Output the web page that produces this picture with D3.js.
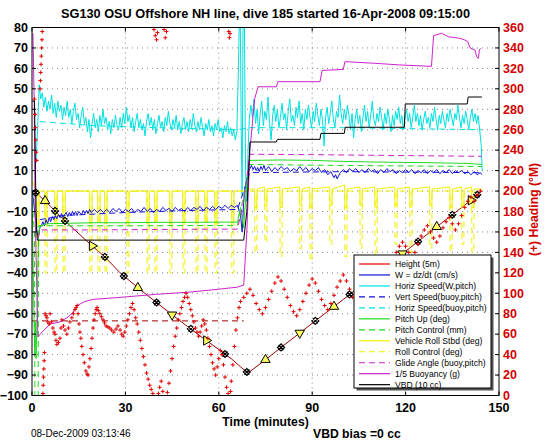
<!DOCTYPE html>
<html><head><meta charset="utf-8">
<script src="https://cdn.jsdelivr.net/npm/d3@7"></script>
<style>
body{margin:0;background:#fff}
text{font-family:"Liberation Sans",Arial,Helvetica,sans-serif}
</style></head>
<body><svg id="c" width="546" height="442"></svg>
<script>
// ---------------- data ----------------
const titleText = "SG130 OSU Offshore NH line, dive 185 started 16-Apr-2008 09:15:00";
const xTicks = [0,30,60,90,120,150];
const yTicks = [-100,-90,-80,-70,-60,-50,-40,-30,-20,-10,0,10,20,30,40,50,60,70,80];
const rTicks = [0,20,40,60,80,100,120,140,160,180,200,220,240,260,280,300,320,340,360];

// Height (5m) - depth trace
const height = [[0,0],[1,-0.5],[2,-1.8],[3,-3.2],[4.2,-4.8],[7.4,-9.7],[10.6,-14.6],[15,-20.8],[19.3,-26.8],[23.4,-32.2],[28.3,-40],[35,-48.5],[40,-54.5],[45,-60.5],[50,-66.3],[55,-72],[60,-77.5],[64,-82],[67,-86],[69,-88.5],[70,-88.3],[75,-82.5],[80,-76.5],[90,-64.7],[100,-53],[110,-41.2],[120,-29.4],[130,-17.5],[140,-5.7],[144.5,0]];
const heightTri = [[4.2,-4.8,0],[19.3,-26.8,90],[34,-47.3,0],[45,-60.5,180],[56,-73.1,90],[75,-82.5,0],[86,-69.4,180],[97,-56.5,0],[108,-43.6,90],[119,-30.6,180],[130,-17.5,0],[141,-4.5,90]];
const heightX = [[1.2,-0.8],[7.4,-9.7],[10.6,-14.6],[23.4,-32.2],[29.5,-41.6],[40,-54.5],[51,-67.4],[62,-79.7],[69,-88.5],[80,-76.5],[91,-63.5],[102,-50.6],[113,-37.7],[124,-24.7],[135,-11.6],[143,-1.8]];
const desiredHeading = [[0,-63.5],[68,-63.5]];

// W = dz/dt (cm/s)
const wSpeed = [[0,0],[0.5,-5],[1,-12],[1.5,-20],[2,-22],[2.5,-18],[3,-17],[3.5,-15],[4,-17],[4.5,-14],[5,-16],[5.5,-13],[6,-15],[6.5,-12.5],[7,-14],[7.5,-12],[8,-13.5],[8.5,-11.5],[9,-13],[9.5,-11],[10,-13],[10.5,-11.5],[11,-10.5],[11.5,-12.5],[12,-10.5],[12.5,-12],[13,-10],[13.5,-11.5],[14,-10],[14.5,-12],[15,-10],[16,-11.5],[16.5,-9.5],[17,-11],[17.5,-9.5],[18,-11],[18.5,-9],[19,-10.5],[20,-9],[21,-10.5],[22,-9],[23,-10.5],[24,-9],[25,-10.5],[26,-8.5],[27,-10],[28,-8.5],[29,-10.5],[30,-9],[31,-10],[32,-8.5],[33,-10.5],[34,-9],[35,-10],[36,-8],[37,-10],[38,-8.5],[39,-10.5],[40,-9],[41,-10],[42,-8],[43,-9.5],[44,-8.5],[45,-10],[46,-8],[47,-9.5],[48,-8.5],[49,-10],[50,-8],[51,-9.5],[52,-8],[53,-9],[54,-7.5],[55,-9.5],[56,-8],[57,-9],[58,-7.5],[59,-9],[60,-7.5],[61,-8.5],[62,-7],[63,-8.5],[64,-7],[65,-8],[66,-7],[67,-12],[67.5,-20],[68,-5],[68.5,2],[69,6],[69.5,9],[70,11],[70.5,12.5],[71,10.5],[71.5,12],[72,10],[72.5,11.5],[73,9.5],[73.5,12],[74,10.5],[74.5,12.5],[75,10],[76,12],[77,9.5],[78,11.5],[79,10],[80,12],[81,10.5],[82,11.5],[83,9.5],[84,11],[85,10],[86,12],[87,10],[88,11.5],[89,9.5],[90,11],[91,10],[92,11.5],[93,9],[94,10.5],[95,8],[96,9.5],[97,6.5],[97.5,8],[98,6],[99,9],[100,10.5],[101,9],[102,11],[103,9.5],[104,11],[105,9],[106,10.5],[107,9],[108,11],[109,9.5],[110,10.5],[111,8.5],[112,10.5],[113,9],[114,11],[115,9.5],[116,10.5],[117,8.5],[118,10],[119,9],[120,10.5],[121,9],[122,10.5],[123,8.5],[124,10],[125,9],[126,10.5],[127,8.5],[128,10],[129,9],[130,10.5],[131,8.5],[132,10],[133,9],[134,10.5],[135,8.5],[136,10],[137,9],[138,10],[139,8.5],[140,9.5],[141,8],[142,9.5],[143,8],[144,9],[144.5,8]];
const wBuoy = [[2.5,-14],[10,-12],[30,-10.5],[50,-9.5],[66,-9],[70,9],[100,9.5],[144.5,9]];

// Horiz Speed (W,pitch)
const hSpeed = [[1.3,15],[1.8,30],[2.3,52],[2.8,45],[3.3,48],[3.8,41],[4.3,46],[4.8,39],[5.3,44],[5.8,40],[6.3,47],[6.8,38],[7.3,43],[7.8,36],[8.3,44],[8.8,39],[9.3,42],[9.8,35],[10.3,41],[10.8,37],[11.3,44],[11.8,36],[12.3,40],[12.8,33],[13.3,39],[13.8,43],[14.3,35],[14.8,38],[15.3,31],[15.8,37],[16.3,41],[16.8,33],[17.3,36],[17.8,29],[18.3,35],[18.8,26],[19.3,33],[19.8,38],[20.3,31],[20.8,35],[21.3,29],[21.8,37],[22.3,32],[22.8,40],[23.3,33],[23.8,36],[24.3,30],[24.8,34],[25.3,28],[25.8,35],[26.3,31],[26.8,37],[27.3,32],[27.8,30],[28.3,36],[28.8,31],[29.3,38],[29.8,33],[30.3,41],[30.8,34],[31.3,37],[31.8,31],[32.3,36],[32.8,29],[33.3,34],[33.8,38],[34.3,31],[34.8,35],[35.3,30],[35.8,33],[36.3,27],[36.8,34],[37.3,38],[37.8,32],[38.3,36],[38.8,30],[39.3,35],[39.8,28],[40.3,33],[40.8,37],[41.3,31],[41.8,34],[42.3,29],[42.8,36],[43.3,32],[43.8,39],[44.3,33],[44.8,30],[45.3,35],[45.8,31],[46.3,37],[46.8,30],[47.3,34],[47.8,28],[48.3,33],[48.8,36],[49.3,30],[49.8,34],[50.3,29],[50.8,35],[51.3,31],[51.8,38],[52.3,32],[52.8,29],[53.3,34],[53.8,30],[54.3,36],[54.8,31],[55.3,27],[55.8,33],[56.3,30],[56.8,35],[57.3,29],[57.8,32],[58.3,27],[58.8,33],[59.3,30],[59.8,35],[60.3,29],[60.8,31],[61.3,26],[61.8,32],[62.3,29],[62.8,34],[63.3,28],[63.8,31],[64.3,27],[64.8,30],[65.3,25],[65.8,29],[66.3,60],[66.6,85],[66.9,85],[67.2,30],[67.5,-2],[67.8,85],[68.2,85],[68.6,10],[69,-5],[69.4,20],[69.8,35],[70.3,42],[70.8,36],[71.3,45],[71.8,33],[72.3,40],[72.8,28],[73.3,38],[73.8,44],[74.3,32],[74.8,39],[75.3,35],[75.8,46],[76.3,33],[76.8,25],[77.3,37],[77.8,42],[78.3,34],[78.8,40],[79.3,31],[79.8,36],[80.3,43],[80.8,35],[81.3,38],[81.8,30],[82.3,39],[82.8,45],[83.3,34],[83.8,37],[84.3,32],[84.8,41],[85.3,36],[85.8,44],[86.3,33],[86.8,38],[87.3,30],[87.8,40],[88.3,35],[88.8,42],[89.3,36],[89.8,31],[90.3,39],[90.8,34],[91.3,43],[91.8,37],[92.3,32],[92.8,40],[93.3,35],[93.8,22],[94.3,36],[94.8,41],[95.3,33],[95.8,38],[96.3,44],[96.8,35],[97.3,31],[97.8,39],[98.3,36],[98.8,47],[99.3,38],[99.8,33],[100.3,40],[100.8,35],[101.3,42],[101.8,37],[102.3,30],[102.8,38],[103.3,26],[103.8,35],[104.3,40],[104.8,33],[105.3,37],[105.8,29],[106.3,36],[106.8,42],[107.3,34],[107.8,39],[108.3,31],[108.8,37],[109.3,44],[109.8,35],[110.3,32],[110.8,38],[111.3,34],[111.8,41],[112.3,36],[112.8,30],[113.3,38],[113.8,33],[114.3,40],[114.8,35],[115.3,29],[115.8,37],[116.3,32],[116.8,39],[117.3,35],[117.8,41],[118.3,33],[118.8,37],[119.3,30],[119.8,36],[120.3,40],[120.8,34],[121.3,38],[121.8,31],[122.3,36],[122.8,42],[123.3,34],[123.8,38],[124.3,32],[124.8,37],[125.3,30],[125.8,35],[126.3,39],[126.8,33],[127.3,36],[127.8,31],[128.3,38],[128.8,34],[129.3,41],[129.8,35],[130.3,30],[130.8,37],[131.3,33],[131.8,39],[132.3,35],[132.8,31],[133.3,38],[133.8,34],[134.3,40],[134.8,36],[135.3,32],[135.8,38],[136.3,35],[136.8,42],[137.3,36],[137.8,31],[138.3,37],[138.8,33],[139.3,39],[139.8,35],[140.3,30],[140.8,36],[141.3,40],[141.8,34],[142.3,38],[142.8,33],[143.3,37],[143.8,30],[144.3,22],[144.6,10]];
const hSpeedBuoy = [[2.5,34],[20,32],[40,31],[66,30],[70,31],[100,31],[144.5,30]];

// Pitch Up (deg) and Pitch Control (mm)
const pitch = [[0,0],[0.4,-40],[0.7,-66],[0.9,-80],[1.1,-64],[1.3,-82],[1.5,-70],[1.8,-45],[2.1,-22],[2.5,-17],[5,-16],[10,-15.8],[20,-15.5],[30,-15.5],[40,-15.3],[50,-15.3],[60,-15.2],[66,-15.2],[67,-8],[68,-18],[69,5],[70,15],[80,15.2],[90,15],[100,14.5],[110,14.2],[120,14],[130,13.8],[140,13.5],[144.5,13]];
const pitchCtl = [[0,-5],[0.8,-20],[1,-150],[1.9,-150],[2.1,-17],[30,-17],[66,-16.8],[69,5],[70,13],[100,12.5],[144.5,12]];

// Vehicle Roll Stbd (deg) and Roll Control (deg)
const roll = [[0,5],[1.5,0],[1.6,-16],[2.2,-16],[2.3,0],[4.1,0],[4.2,-15],[4.8,-15],[4.9,0],[7.3,0],[7.4,-16],[8,-16],[8.1,0],[9.9,0],[10,-15],[10.6,-15],[10.7,0],[18.5,0],[18.6,-16],[19.2,-16],[19.3,0],[21.1,0],[21.2,-15],[21.8,-15],[21.9,0],[23.3,0],[23.4,-16],[24,-16],[24.1,0],[30.4,0],[30.5,-15],[31.1,-15],[31.2,0],[36.9,0],[37,-16],[37.6,-16],[37.7,0],[39.4,0],[39.5,-15],[40.1,-15],[40.2,0],[44.2,0],[44.3,-16],[44.9,-16],[45,0],[48.4,0],[48.5,-15],[49.1,-15],[49.2,0],[52.6,0],[52.7,-16],[53.3,-16],[53.4,0],[55.5,0],[55.6,-15],[56.2,-15],[56.3,0],[58.7,0],[58.8,-16],[59.4,-16],[59.5,0],[64.1,0],[64.2,-15],[64.8,-15],[64.9,0],[68,0],[70,1],[71.5,1],[71.6,-8],[72.2,-8],[72.3,1],[74.7,2],[74.8,-7],[75.4,-7],[75.5,1],[79.6,2],[79.7,-8],[80.3,-8],[80.4,1],[85.9,2],[86,-7],[86.6,-7],[86.7,1],[89.2,2],[89.3,-8],[89.9,-8],[90,1],[95.6,2],[95.7,-7],[96.3,-7],[96.4,1],[100.4,3],[100.5,-8],[101.1,-8],[101.2,1],[105.3,2],[105.4,-7],[106,-7],[106.1,1],[110.1,2],[110.2,-8],[110.8,-8],[110.9,1],[116.5,2],[116.6,-7],[117.2,-7],[117.3,1],[121.3,2],[121.4,-8],[122,-8],[122.1,1],[127.7,2],[127.8,-7],[128.4,-7],[128.5,1],[134.2,2],[134.3,-8],[134.9,-8],[135,1],[138,2],[138.1,-7],[138.7,-7],[138.8,1],[141.2,2],[141.3,-8],[141.9,-8],[142,1],[144.5,1]];
const rollCtl = [[1.5,0],[1.6,-40],[2.2,-40],[2.3,0],[4.1,0],[4.2,-40],[4.8,-40],[4.9,0],[7.3,0],[7.4,-40],[8,-40],[8.1,0],[9.9,0],[10,-40],[10.6,-40],[10.7,0],[18.5,0],[18.6,-40],[19.2,-40],[19.3,0],[21.1,0],[21.2,-40],[21.8,-40],[21.9,0],[23.3,0],[23.4,-40],[24,-40],[24.1,0],[30.4,0],[30.5,-40],[31.1,-40],[31.2,0],[36.9,0],[37,-40],[37.6,-40],[37.7,0],[39.4,0],[39.5,-40],[40.1,-40],[40.2,0],[44.2,0],[44.3,-40],[44.9,-40],[45,0],[48.4,0],[48.5,-40],[49.1,-40],[49.2,0],[52.6,0],[52.7,-40],[53.3,-40],[53.4,0],[55.5,0],[55.6,-40],[56.2,-40],[56.3,0],[58.7,0],[58.8,-40],[59.4,-40],[59.5,0],[64.1,0],[64.2,-40],[64.8,-40],[64.9,0],[71.5,0],[71.6,-30],[72.2,-30],[72.3,0],[74.7,0],[74.8,-25],[75.4,-25],[75.5,0],[79.6,0],[79.7,-32],[80.3,-32],[80.4,0],[85.9,0],[86,-28],[86.6,-28],[86.7,0],[89.2,0],[89.3,-34],[89.9,-34],[90,0],[95.6,0],[95.7,-26],[96.3,-26],[96.4,0],[100.4,0],[100.5,-32],[101.1,-32],[101.2,0],[105.3,0],[105.4,-28],[106,-28],[106.1,0],[110.1,0],[110.2,-34],[110.8,-34],[110.9,0],[116.5,0],[116.6,-26],[117.2,-26],[117.3,0],[121.3,0],[121.4,-30],[122,-30],[122.1,0],[127.7,0],[127.8,-28],[128.4,-28],[128.5,0],[134.2,0],[134.3,-32],[134.9,-32],[135,0],[138,0],[138.1,-26],[138.7,-26],[138.8,0],[141.2,0],[141.3,-30],[141.9,-30],[142,0]];

// Glide Angle (buoy,pitch)
const glide = [[2,-23],[2.6,-19],[20,-19],[40,-18.8],[66,-18.6],[68,-5],[70,18],[90,17.8],[110,17.5],[130,17.2],[144.5,17]];

// 1/5 Buoyancy (g)
const buoy = [[0,77],[0.3,77],[0.7,45],[1,-10],[1.9,-71.4],[2.6,-70],[5.8,-65],[9,-64],[11.2,-62],[12.8,-60],[14.5,-56],[17,-54],[19.6,-53],[28.3,-52],[40,-50.5],[50,-49.5],[60,-48],[66,-47],[68,-46],[69,-20],[70,20],[71.5,45],[72.6,51],[78.5,51],[79,53.5],[92.5,53.5],[93.2,59],[100,59.5],[100.5,63.3],[110,62.5],[118,61.7],[128.3,61],[129,76],[131.6,77.2],[133.7,75.5],[137.5,74.7],[139,73.9],[140,73.1],[140.7,70],[142.3,69],[142.8,65.7],[143.4,64.9],[143.7,69],[144.1,69.8]];

// VBD (10 cc)
const vbd = [[0,44],[0.8,44],[1.3,-10],[1.7,-24],[68,-24],[69,-10],[70,24],[78.5,24],[78.8,25.3],[92.5,25.3],[92.8,28.2],[100.3,28.2],[100.6,31.2],[119.6,31.2],[119.9,42.6],[139.8,42.6],[140.1,46],[144.5,46]];

// (+) Heading (deg M) - right axis
const heading = [[0.8,290],[1,275],[1.1,262],[1.2,250],[1.35,238],[1.5,230],[2.6,300],[2.7,308],[2.8,316],[2.9,324],[3,332],[3.1,340],[3.2,348],[3.3,356],[3.5,2],[3.6,10],[3.7,18],[3.8,26],[3.9,34],[4,42],[4.2,80],[4.5,78],[4.8,76],[5.1,72],[5.5,70],[5.8,80],[6.2,72],[6.7,66],[7.1,62],[7.4,60],[7.7,54],[8,50],[8.5,52],[9,56],[9.3,66],[9.6,74],[10.1,68],[10.6,64],[11.2,60],[11.7,66],[12.2,72],[12.8,76],[13.3,80],[13.8,84],[14.2,86],[14.5,88],[14.8,80],[15.1,70],[15.4,62],[15.7,56],[16,48],[16.4,40],[16.8,32],[17.3,24],[17.7,21],[18,20],[18.3,28],[18.6,36],[19,46],[19.3,56],[19.6,66],[19.9,74],[20.3,80],[20.6,84],[20.9,86],[21.3,83],[21.8,80],[22.3,77],[22.8,74],[23.3,71],[23.8,68],[24.4,67],[25,66],[25.6,64],[26.3,62],[27,65],[27.6,68],[28.3,64],[28.8,60],[29.3,58],[29.8,62],[30.3,68],[30.8,74],[31.3,80],[31.8,86],[32.3,90],[32.8,84],[33.3,76],[33.8,70],[34.3,62],[34.8,54],[35.3,46],[35.8,38],[36.3,30],[36.8,22],[37.3,16],[37.8,10],[38.3,6],[38.8,2],[39.2,358],[39.6,352],[40,348],[40.3,355],[40.6,2],[41,8],[41.5,14],[42,4],[42.4,358],[42.8,350],[43.2,356],[43.5,3],[44,12],[44.5,24],[45,36],[45.5,48],[46,58],[46.5,66],[47,74],[47.5,80],[48,86],[48.5,92],[49,96],[49.5,100],[50,96],[50.5,90],[51,84],[51.5,78],[52,72],[52.5,66],[53,62],[53.5,58],[54,62],[54.5,68],[55,74],[55.5,70],[56,64],[56.5,56],[57,48],[57.5,40],[58,32],[58.5,26],[59,20],[59.5,28],[60,36],[60.5,44],[61,40],[61.5,30],[62,18],[62.5,8],[63,2],[63.2,356],[63.4,350],[63.6,354],[63.8,4],[64,14],[64.5,30],[65,48],[65.5,64],[66,76],[66.5,86],[67,92],[68,96],[69,100],[70,104],[71,98],[72,90],[73,84],[74,80],[75,86],[76,94],[77,102],[78,110],[79,116],[80,112],[81,104],[82,96],[83,88],[84,82],[85,78],[86,84],[87,92],[88,100],[89,108],[90,114],[91,110],[92,102],[93,94],[94,88],[95,84],[96,90],[97,98],[98,106],[99,112],[100,118],[101,112],[102,104],[103,96],[104,92],[105,96],[106,104],[107,112],[108,120],[109,126],[110,130],[111,126],[112,120],[113,114],[114,118],[115,126],[116,134],[117,140],[118,146],[119,150],[120,146],[121,140],[122,136],[123,140],[124,148],[125,156],[126,162],[127,166],[128,160],[129,154],[130,150],[131,156],[132,164],[133,170],[134,174],[135,168],[136,162],[137,168],[138,176],[139,184],[140,190],[141,194],[142,190],[143,196],[144,200]];

// ---------------- drawing ----------------
const svg = d3.select("#c");
const L=32,R=499,T=27.5,B=395.5;
const x = d3.scaleLinear().domain([0,150]).range([L,R]);
const y = d3.scaleLinear().domain([-100,80]).range([B,T]);
const yR = d3.scaleLinear().domain([0,360]).range([B,T]);

svg.append("rect").attr("x",0).attr("y",0).attr("width",546).attr("height",442).attr("fill","#fff");
svg.append("defs").append("clipPath").attr("id","clip").append("rect")
  .attr("x",L).attr("y",T).attr("width",R-L).attr("height",B-T);

// grid
const grid = svg.append("g").attr("stroke","#666").attr("stroke-width",0.8).attr("stroke-dasharray","1,4");
yTicks.filter(v=>v>-100&&v<80).forEach(v=>grid.append("line").attr("x1",L).attr("x2",R).attr("y1",y(v)).attr("y2",y(v)));
xTicks.filter(v=>v>0&&v<150).forEach(v=>grid.append("line").attr("y1",T).attr("y2",B).attr("x1",x(v)).attr("x2",x(v)));

const plot = svg.append("g").attr("clip-path","url(#clip)");
const line = d3.line().x(d=>x(d[0])).y(d=>y(d[1]));
function draw(data,color,dash,w){
  plot.append("path").datum(data).attr("d",line).attr("fill","none")
    .attr("stroke",color).attr("stroke-width",w||1).attr("stroke-dasharray",dash||null);
}
const C = {red:"#e00000",dred:"#a00000",blue:"#1010d8",cyan:"#00e0e0",green:"#20d820",yellow:"#f0f000",mag:"#cc22cc",black:"#000"};

draw(height,C.dred,null,1);
draw(desiredHeading,C.dred,"6,4",1);
draw(hSpeed,C.cyan);
draw(hSpeedBuoy,C.cyan,"6,4");
draw(roll,C.yellow);
draw(rollCtl,C.yellow,"6,4");
draw(wSpeed,C.blue);
draw(wBuoy,C.blue,"6,4");
draw(pitch,C.green);
draw(pitchCtl,C.green,"6,4");
draw(glide,C.mag,"6,4");
draw(buoy,C.mag);
draw(vbd,C.black);

// depth markers
const tri = d3.symbol().type(d3.symbolTriangle).size(38);
plot.selectAll(".tri").data(heightTri).join("path")
  .attr("d",tri).attr("transform",d=>`translate(${x(d[0])},${y(d[1])}) rotate(${d[2]})`)
  .attr("fill","#ffff60").attr("stroke","#000").attr("stroke-width",1);
plot.selectAll(".xm").data(heightX).join("path")
  .attr("d","M-3.5,0L0,-3.5L3.5,0L0,3.5ZM-2.5,-2.5L2.5,2.5M-2.5,2.5L2.5,-2.5")
  .attr("transform",d=>`translate(${x(d[0])},${y(d[1])})`)
  .attr("fill","none").attr("stroke","#000").attr("stroke-width",1.2);

// heading + markers
plot.selectAll(".hd").data(heading).join("path")
  .attr("d","M-2,0H2M0,-2V2")
  .attr("transform",d=>`translate(${x(d[0])},${yR(d[1])})`)
  .attr("stroke",C.red).attr("stroke-width",1).attr("fill","none");

// frame
svg.append("rect").attr("x",L).attr("y",T).attr("width",R-L).attr("height",B-T)
  .attr("fill","none").attr("stroke","#000").attr("stroke-width",1);

// ticks
const tk = svg.append("g").attr("stroke","#000").attr("stroke-width",1);
yTicks.forEach(v=>{tk.append("line").attr("x1",L).attr("x2",L+4).attr("y1",y(v)).attr("y2",y(v));});
rTicks.forEach(v=>{tk.append("line").attr("x1",R).attr("x2",R-4).attr("y1",yR(v)).attr("y2",yR(v));});
xTicks.forEach(v=>{tk.append("line").attr("x1",x(v)).attr("x2",x(v)).attr("y1",B).attr("y2",B-4);
  tk.append("line").attr("x1",x(v)).attr("x2",x(v)).attr("y1",T).attr("y2",T+4);});

// tick labels
svg.append("g").selectAll("text").data(yTicks).join("text")
  .attr("x",L-4).attr("y",d=>y(d)+4.3).attr("text-anchor","end")
  .attr("font-size","12.5px").attr("font-weight","bold").text(d=>d<0?"\u2212"+(-d):d);
svg.append("g").selectAll("text").data(rTicks).join("text")
  .attr("x",R+4).attr("y",d=>yR(d)+4.3).attr("text-anchor","start").attr("fill","#d40000")
  .attr("font-size","12.5px").attr("font-weight","bold").text(d=>d);
svg.append("g").selectAll("text").data(xTicks).join("text")
  .attr("x",d=>x(d)).attr("y",411.5).attr("text-anchor","middle")
  .attr("font-size","12.5px").attr("font-weight","bold").text(d=>d);

// titles
svg.append("text").attr("x",265.5).attr("y",18).attr("text-anchor","middle")
  .attr("font-size","12.5px").attr("font-weight","bold")
  .attr("textLength",409).attr("lengthAdjust","spacingAndGlyphs").text(titleText);
svg.append("text").attr("x",265.5).attr("y",426).attr("text-anchor","middle")
  .attr("font-size","12.2px").attr("font-weight","bold").text("Time (minutes)");
svg.append("text").attr("x",31).attr("y",437).attr("font-size","10px").text("08-Dec-2009 03:13:46");
svg.append("text").attr("x",313).attr("y",438).attr("font-size","12.2px").attr("font-weight","bold").text("VBD bias =0 cc");
svg.append("text").attr("transform","translate(538,209.5) rotate(-90)").attr("text-anchor","middle")
  .attr("font-size","12.2px").attr("font-weight","bold").attr("fill","#d40000").text("(+) Heading (\u00B0M)");

// legend
const legendItems = [
  ["Height (5m)",C.red,null],["W = dz/dt (cm/s)",C.blue,null],["Horiz Speed(W,pitch)",C.cyan,null],
  ["Vert Speed(buoy,pitch)",C.blue,"6,4"],["Horiz Speed(buoy,pitch)",C.cyan,"6,4"],["Pitch Up (deg)",C.green,null],
  ["Pitch Control (mm)",C.green,"6,4"],["Vehicle Roll Stbd (deg)",C.yellow,null],["Roll Control (deg)",C.yellow,"6,4"],
  ["Glide Angle (buoy,pitch)",C.mag,"6,4"],["1/5 Buoyancy (g)",C.mag,null],["VBD (10 cc)",C.black,null]];
const lg = svg.append("g");
lg.append("rect").attr("x",356.5).attr("y",257.5).attr("width",137).attr("height",133).attr("fill","#555");
lg.append("rect").attr("x",354).attr("y",255).attr("width",137).attr("height",133).attr("fill","#fff").attr("stroke","#000");
legendItems.forEach((d,i)=>{
  const yy = 264+i*10.97;
  lg.append("line").attr("x1",359).attr("x2",390).attr("y1",yy).attr("y2",yy)
    .attr("stroke",d[1]).attr("stroke-width",1.2).attr("stroke-dasharray",d[2]);
  lg.append("text").attr("x",395).attr("y",yy+3).attr("font-size","8.6px").text(d[0]);
});
</script></body></html>
